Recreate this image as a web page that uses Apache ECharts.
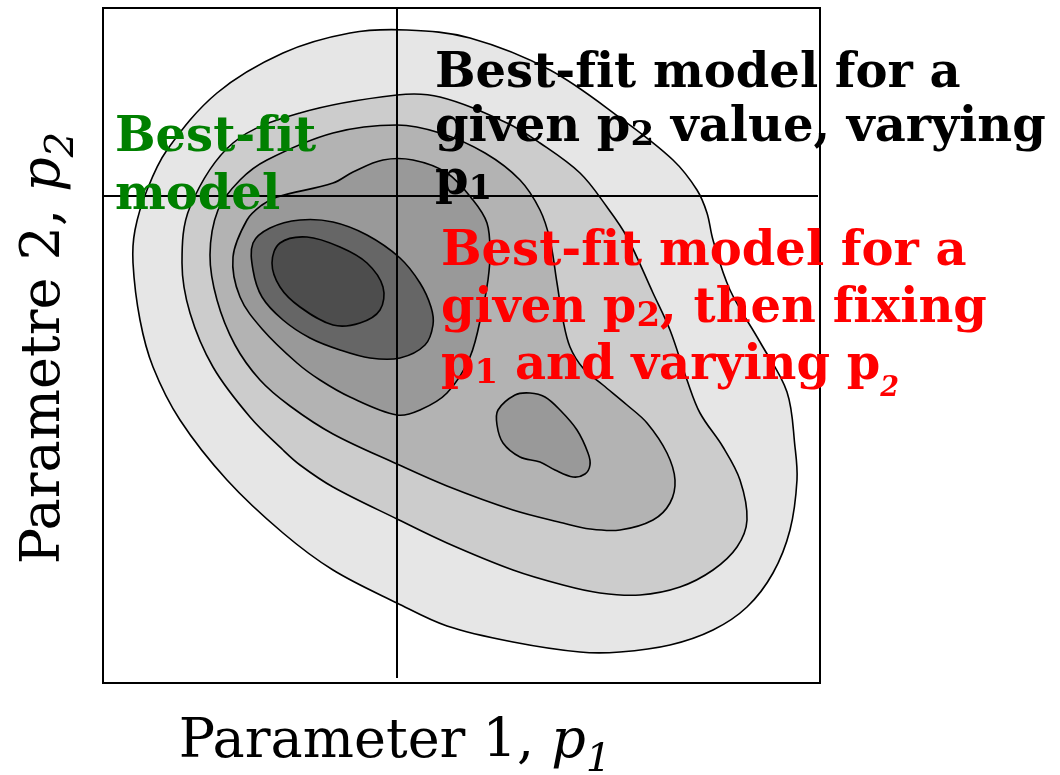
<!DOCTYPE html>
<html lang="en">
<head>
    <meta charset="UTF-8">
    <title>Best-fit contours</title>
    <script src="https://cdn.jsdelivr.net/npm/echarts@6/dist/echarts.min.js"></script>
    <style>
        html, body { margin: 0; padding: 0; background: #fff; }
    </style>
</head>
<body>
<div id="main" style="width: 1060px;height: 775px;"></div>
<script>
    // contour levels, outermost first (p1, p2 in plot units)
    var level1 = [[304,653],[367,645],[447,613],[520,563],[570,523],[594,493],[604,470],[610,443],[627,393],[657,341],[684,291],[692,236],[694,203],[687,153],[670,110],[644,76],[610,53],[567,38],[517,31],[477,31],[410,41],[344,57],[294,80],[230,113],[180,150],[124,203],[77,263],[50,316],[37,363],[30,420],[32,453],[44,493],[64,533],[114,590],[180,630],[247,650]]
    var level2 = [[294,588],[337,586],[404,560],[437,540],[477,510],[504,476],[524,446],[550,390],[567,353],[584,303],[597,270],[620,236],[637,203],[644,163],[634,136],[610,113],[577,96],[537,88],[497,90],[460,98],[410,113],[344,140],[294,164],[230,196],[197,218],[180,233],[147,266],[110,316],[87,370],[79,420],[87,476],[130,540],[197,570]]
    var level3 = [[294,558],[337,550],[382,530],[417,503],[437,473],[447,443],[454,400],[460,363],[467,336],[480,315],[500,298],[524,278],[544,260],[564,230],[572,203],[567,180],[550,163],[517,153],[487,154],[460,160],[410,173],[344,197],[294,219],[230,249],[187,277],[157,303],[132,338],[114,383],[107,428],[115,473],[137,503],[164,523],[230,550]]
    var level4 = [[174,486],[230,500],[250,511],[280,523],[310,523],[344,510],[370,483],[384,460],[387,430],[385,403],[380,376],[367,326],[344,290],[317,273],[294,268],[247,286],[217,303],[194,320],[160,353],[137,386],[130,426],[144,463],[159,478]]
    var level4b = [[395,273],[412,288],[427,290],[442,286],[457,273],[474,253],[485,230],[487,218],[482,209],[470,206],[452,213],[437,221],[417,226],[400,240],[394,258]]
    var level5 = [[150,440],[167,455],[197,463],[230,461],[264,448],[297,425],[317,400],[328,376],[330,358],[322,338],[297,325],[267,325],[237,333],[207,345],[180,363],[159,386],[150,413]]
    var level6 = [[169,420],[177,440],[204,446],[237,436],[264,420],[280,396],[277,373],[257,360],[230,358],[197,376],[177,396]]

    var contours = [level1, level2, level3, level4, level4b, level5, level6]
    var fills = ['#e6e6e6', '#cccccc', '#b3b3b3', '#999999', '#999999', '#666666', '#4d4d4d']

    // fixed p1 / p2 cuts
    var cutP1 = 294
    var cutP2 = 487

    // best-fit markers
    var markP1 = [289, 199, 289]
    var markP2 = [496, 429, 390]
    var markColors = ['#000000', '#008000', '#ff0000']

    var serif = 'DejaVu Serif'
    var nofi = 'f\u200ci'  // keep f and i apart, no ligature
    var mCharts = echarts.init(document.getElementById('main'))
    var option = {
        animation: false,
        grid: {
            left: 103, top: 8, width: 717, height: 675,
            show: true, borderColor: '#000', borderWidth: 2, backgroundColor: '#fff'
        },
        xAxis: {
            type: 'value', min: 0, max: 717,
            axisLine: {show: false}, axisTick: {show: false}, axisLabel: {show: false}, splitLine: {show: false}
        },
        yAxis: {
            type: 'value', min: 0, max: 675,
            axisLine: {show: false}, axisTick: {show: false}, axisLabel: {show: false}, splitLine: {show: false}
        },
        series: [
            {
                type: 'custom',
                data: contours.map(function (c, i) { return [i] }),
                renderItem: function (params, api) {
                    var pts = contours[params.dataIndex].map(function (p) { return api.coord(p) })
                    return {
                        type: 'polygon',
                        shape: {points: pts, smooth: 0.35},
                        style: {fill: fills[params.dataIndex], stroke: '#000', lineWidth: 1.6}
                    }
                },
                z: 1
            },
            {
                type: 'line',
                data: [[cutP1, 5], [cutP1, 675]],
                symbol: 'none',
                lineStyle: {color: '#000', width: 2},
                z: 3
            },
            {
                type: 'line',
                data: [[0, cutP2], [715, cutP2]],
                symbol: 'none',
                lineStyle: {color: '#000', width: 2},
                z: 3
            },
            {
                type: 'scatter',
                symbolSize: 1,
                itemStyle: {opacity: 0},
                data: markP1.map(function (x, i) {
                    return {
                        value: [x, markP2[i]],
                        label: {color: markColors[i]}
                    }
                }),
                label: {
                    show: true, position: 'inside', formatter: 'X',
                    fontFamily: serif, fontSize: 38
                },
                z: 4
            }
        ],
        graphic: [
            {
                type: 'text', left: 435, top: 51, z: 10,
                style: {
                    text: '{a|Best-' + nofi + 't model for a}\n{a|given p}{d|2}{a| value, varying}\n{a|p}{d|1}',
                    rich: {
                        a: {fontFamily: serif, fontWeight: 'bold', fontSize: 48, lineHeight: 53.5, fill: '#000'},
                        d: {fontFamily: serif, fontWeight: 'bold', fontSize: 34, lineHeight: 10, verticalAlign: 'top', padding: [17.5, 0, 0, 0], fill: '#000'}
                    }
                }
            },
            {
                type: 'text', left: 441, top: 229, z: 10,
                style: {
                    text: '{a|Best-' + nofi + 't model for a}\n{a|given p}{d|2}{a|, then ' + nofi + 'xing}\n{a|p}{d|1}{a| and varying p}{s|2}',
                    rich: {
                        a: {fontFamily: serif, fontWeight: 'bold', fontSize: 48, lineHeight: 57, fill: '#ff0000'},
                        d: {fontFamily: serif, fontWeight: 'bold', fontSize: 34, lineHeight: 10, verticalAlign: 'top', padding: [19, 0, 0, 0], fill: '#ff0000'},
                        s: {fontFamily: serif, fontWeight: 'bold', fontStyle: 'italic', fontSize: 27, lineHeight: 10, verticalAlign: 'top', padding: [37, 0, 0, 0], fill: '#ff0000'}
                    }
                }
            },
            {
                type: 'text', left: 115, top: 110, z: 10,
                style: {
                    text: 'Best-' + nofi + 't\nmodel',
                    fill: '#008000', font: 'bold 48px "DejaVu Serif"', lineHeight: 58
                }
            },
            {
                type: 'text', x: 395, y: 743, z: 10,
                style: {
                    text: '{n|Parameter 1, }{i|p}{s|1}',
                    align: 'center', verticalAlign: 'middle',
                    rich: {
                        n: {fontFamily: serif, fontSize: 54, lineHeight: 60, fill: '#000'},
                        i: {fontFamily: serif, fontStyle: 'italic', fontSize: 54, lineHeight: 60, fill: '#000'},
                        s: {fontFamily: serif, fontStyle: 'italic', fontSize: 40, lineHeight: 10, verticalAlign: 'top', padding: [28, 0, 0, 0], fill: '#000'}
                    }
                }
            },
            {
                type: 'text', x: 45, y: 348, rotation: Math.PI / 2, z: 10,
                style: {
                    text: '{n|Parametre 2, }{i|p}{s|2}',
                    align: 'center', verticalAlign: 'middle',
                    rich: {
                        n: {fontFamily: serif, fontSize: 54, lineHeight: 60, fill: '#000'},
                        i: {fontFamily: serif, fontStyle: 'italic', fontSize: 54, lineHeight: 60, fill: '#000'},
                        s: {fontFamily: serif, fontStyle: 'italic', fontSize: 40, lineHeight: 10, verticalAlign: 'top', padding: [28, 0, 0, 0], fill: '#000'}
                    }
                }
            }
        ]
    }
    mCharts.setOption(option)
</script>
</body>
</html>
